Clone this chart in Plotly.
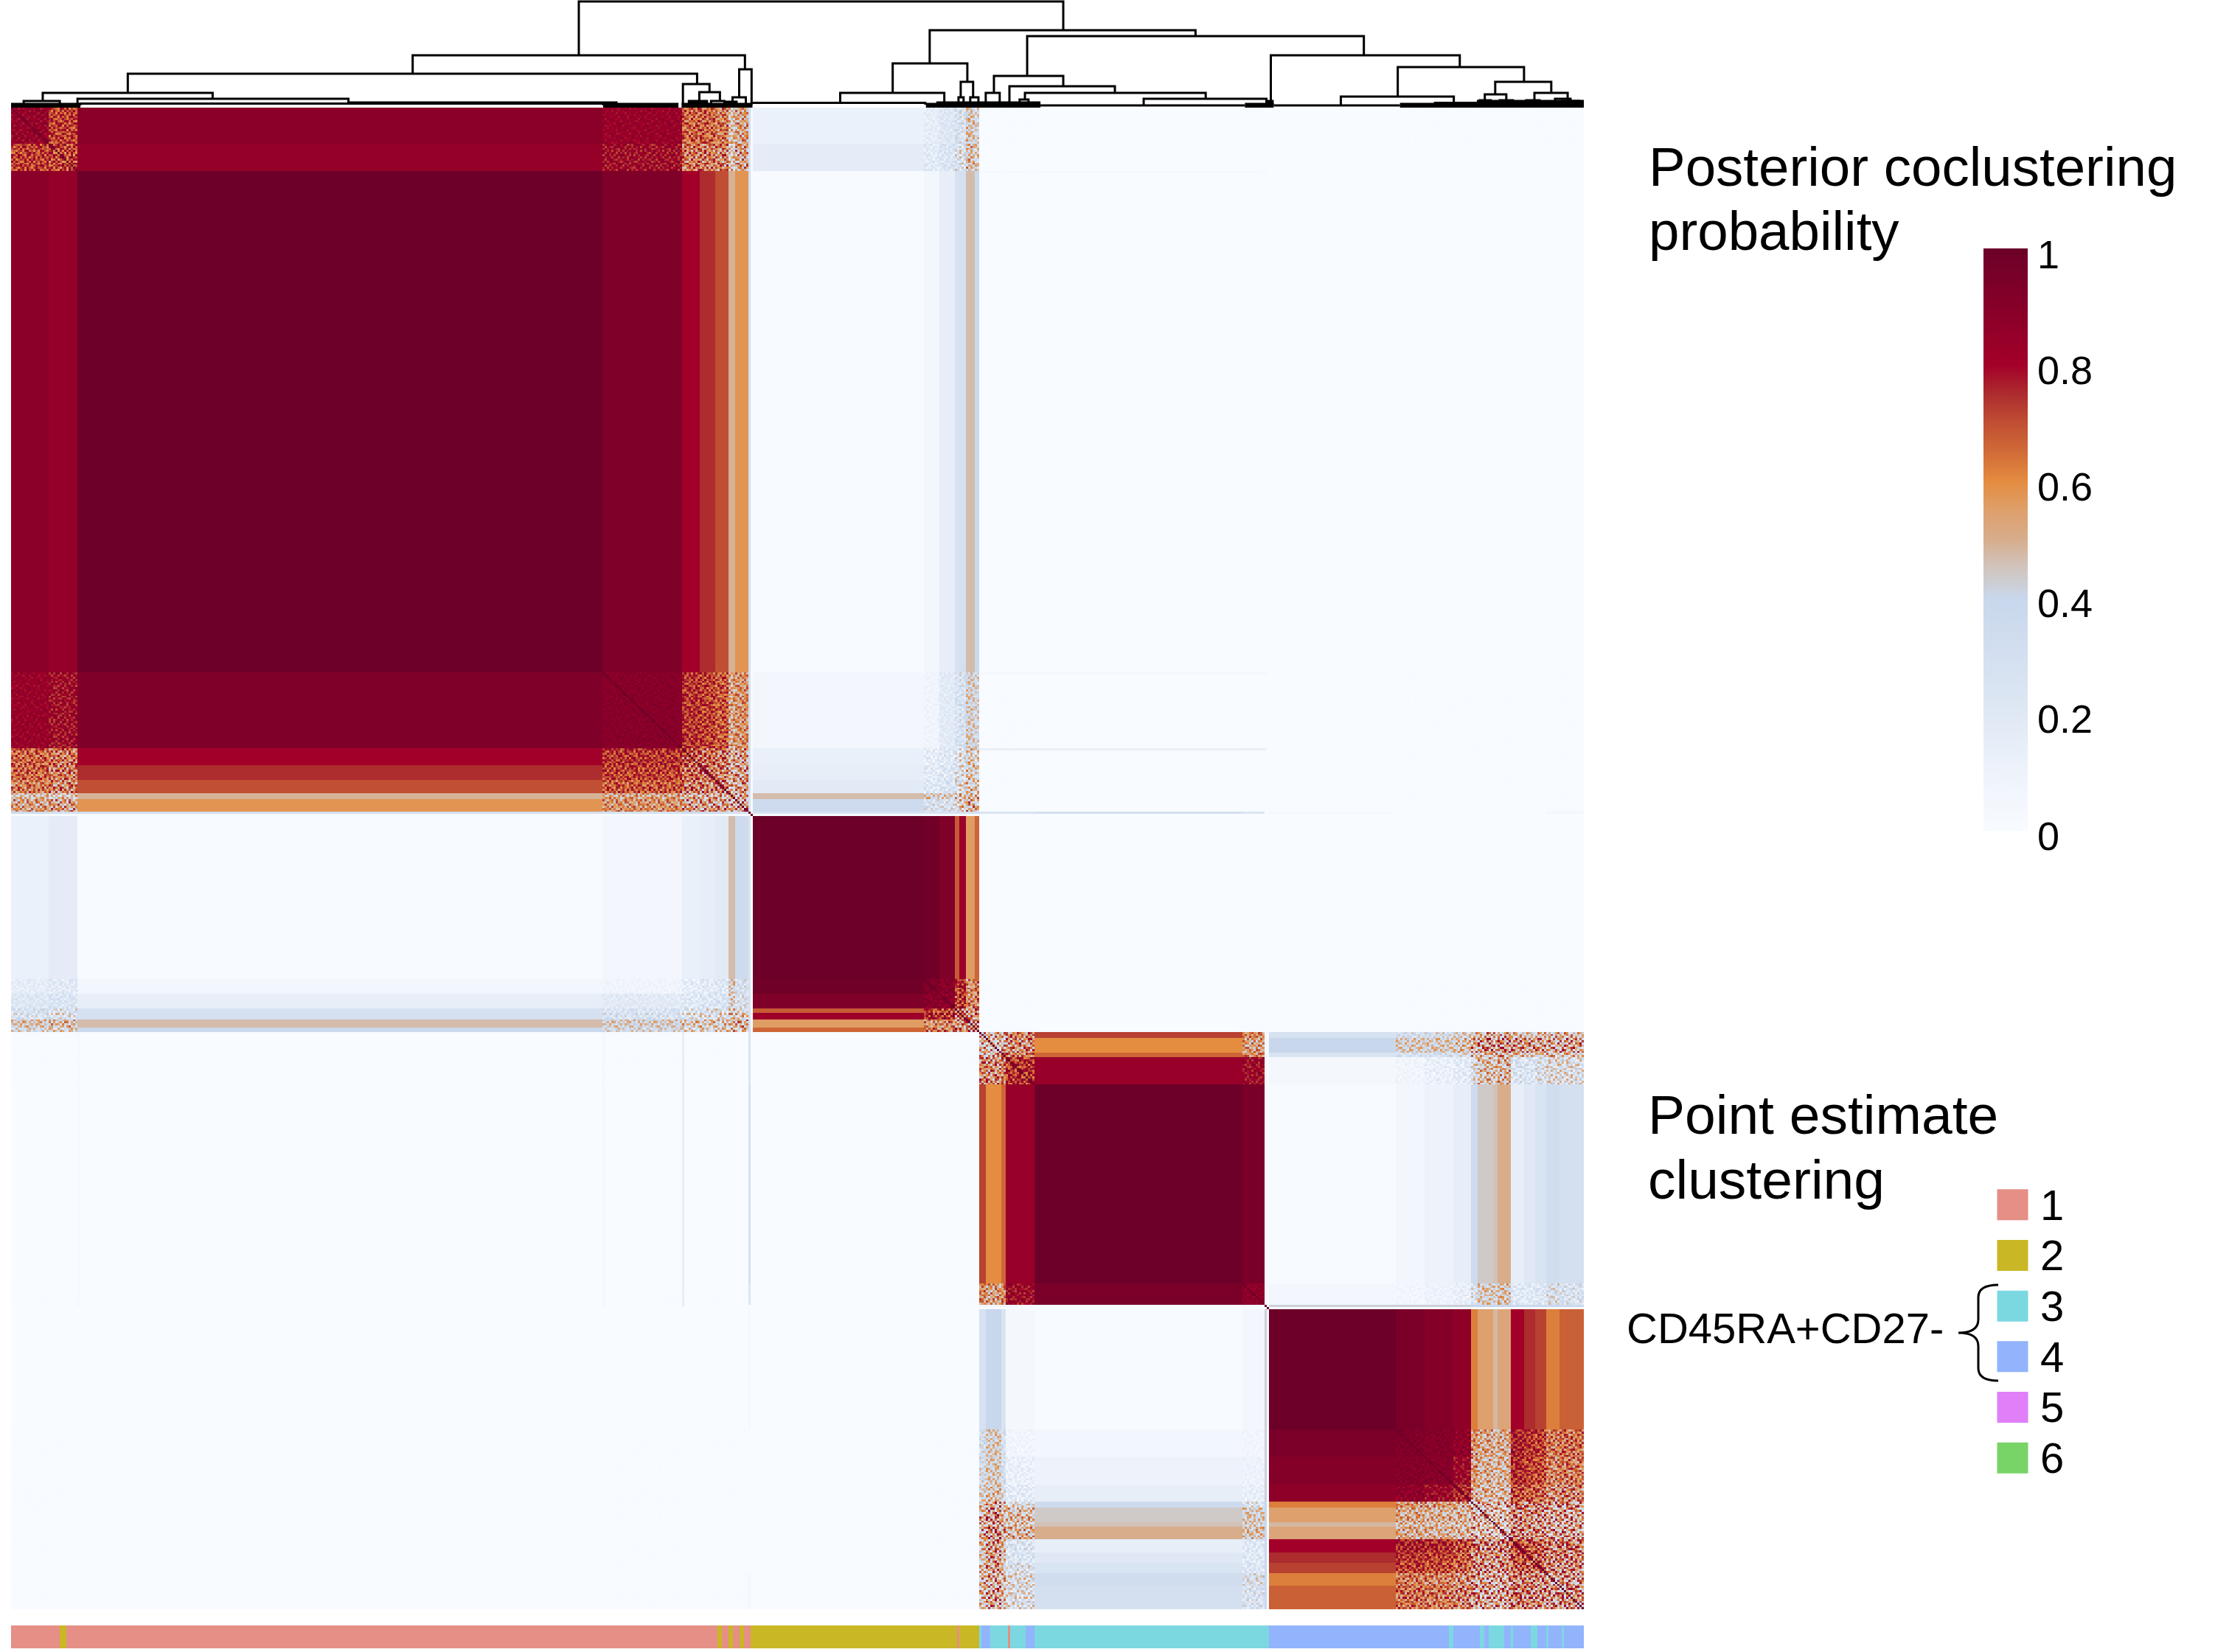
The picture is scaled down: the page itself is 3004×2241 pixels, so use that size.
import numpy as np
import plotly.graph_objects as go

W, H = 3004, 2241
FONT = "Liberation Sans"

# ---------- heatmap: ordered groups of samples ----------
seg_names = ["a1","a2","a3","a4","a5","a6","a7","a8","a9","a10",
             "b0","b1","b2","b3","b4","b5","b6","b7",
             "c1","c2","c3","c4","c5","c6","c7",
             "d0","d1","d2","d3","d4","d5","d6","d7","d8","d9","d10","d11","d12","d13"]
seg_sizes = [17,13,237,36,8,7,6,3,6,1,
             1,77,7,7,2,3,4,2,
             3,7,2,13,94,10,1,
             1,57,13,13,8,3,7,2,6,6,5,5,6,11]
# cell-to-cell scatter seen inside each group (0 = flat colour)
seg_grain = [.08,.16,0,.04,.20,.20,.22,.28,.25,0,
             0,0,.05,.08,.20,.25,.25,.25,
             .22,.28,.22,.15,0,.05,0,
             0,0,.04,.05,.12,.30,.30,.30,.30,.20,.20,.22,.28,.28]

# upper triangles: coclustering probability inside each main cluster
within_a = [[.85,.72,.885,.84,.66,.66,.62,.45,.55,.35],
            [.72,.85,.81,.62,.62,.60,.42,.55,.30],
            [.995,.93,.80,.75,.70,.49,.58,.30],
            [.90,.74,.72,.68,.53,.58,.30],
            [.68,.65,.63,.50,.55,.35],
            [.65,.60,.50,.55,.35],
            [.60,.48,.55,.35],
            [.45,.50,.30],
            [.55,.30],
            [1.0]]
within_b = [[1.0,.01,.01,.01,.01,.01,.01,.01],
            [.995,.98,.93,.68,.82,.56,.66],
            [.93,.90,.70,.78,.58,.62],
            [.88,.70,.75,.60,.62],
            [.60,.65,.55,.60],
            [.68,.58,.62],
            [.55,.60],
            [.55]]
within_c = [[.50,.50,.52,.62,.72,.60,.05],
            [.45,.50,.58,.60,.55,.05],
            [.55,.62,.66,.60,.05],
            [.75,.84,.82,.05],
            [.995,.95,.02],
            [.88,.05],
            [1.0]]
within_d = [[1.0,.01,.01,.01,.01,.01,.01,.01,.01,.01,.01,.01,.01,.01],
            [.995,.95,.91,.87,.62,.55,.48,.53,.80,.75,.72,.62,.67],
            [.93,.91,.87,.58,.52,.48,.52,.78,.74,.72,.62,.64],
            [.90,.82,.56,.50,.46,.50,.76,.72,.70,.60,.62],
            [.76,.52,.48,.45,.48,.70,.68,.65,.58,.60],
            [.50,.48,.45,.48,.62,.60,.60,.55,.55],
            [.42,.42,.45,.60,.58,.56,.52,.52],
            [.40,.42,.58,.55,.55,.50,.50],
            [.45,.60,.58,.56,.52,.52],
            [.72,.70,.66,.60,.62],
            [.70,.66,.60,.60],
            [.64,.58,.58],
            [.55,.55],
            [.58]]
# rows a1..a10, columns b0..b7
between_a_b = [[.01,.12,.15,.22,.28,.28,.45,.36],
               [.01,.16,.18,.24,.30,.30,.47,.38],
               [.01,.01,.06,.15,.28,.30,.47,.38],
               [.01,.05,.08,.18,.25,.28,.42,.36],
               [.01,.13,.15,.20,.27,.30,.42,.36],
               [.01,.15,.17,.22,.30,.32,.42,.36],
               [.01,.18,.20,.25,.30,.35,.42,.38],
               [.01,.47,.42,.40,.40,.40,.50,.45],
               [.01,.35,.30,.30,.35,.40,.50,.42],
               [.01,.25,.25,.25,.30,.30,.30,.30]]
# rows c1..c7, columns d0..d13
between_c_d = [[.01,.28,.32,.35,.38,.45,.50,.45,.50,.45,.45,.45,.48,.45],
               [.01,.40,.42,.42,.44,.50,.55,.50,.58,.55,.55,.52,.50,.52],
               [.01,.25,.28,.30,.33,.42,.45,.45,.50,.45,.45,.42,.45,.42],
               [.01,.04,.07,.12,.16,.35,.45,.42,.48,.25,.25,.30,.35,.33],
               [.01,.01,.06,.10,.15,.35,.44,.46,.50,.15,.20,.25,.33,.30],
               [.01,.05,.07,.10,.13,.30,.42,.40,.45,.20,.20,.22,.33,.28],
               [.01,.42,.42,.42,.42,.40,.40,.40,.40,.38,.38,.38,.38,.38]]
background_prob = .005
faint_blocks = [("a10","c1",.25),("a10","c2",.25),("a10","c3",.25),("a10","c4",.25),
                ("a10","c5",.30),("a10","c6",.22),("a10","d1",.03),("a10","d12",.05),("a10","d13",.05)]
# single samples of cluster A that show as thin pale lines across the third cluster
line_samples = [30, 267, 303]
line_values = [.03, .04, .14]

# hand-typed mottling for the speckled blocks (digit 0..9 = low..high within a block)
speckle_rows = ["72905136842970153864209",
                "18364925071683942507316",
                "50827319468205917346082",
                "93416082753194068271549",
                "26079543180762935418607",
                "84153760924318507692143",
                "37928105463970261584730",
                "61504892317046895320968",
                "09276348519832704165297",
                "45831067294516380927451",
                "78092514630897146253086",
                "13647980258340692718534",
                "96205371846129503876012",
                "32758419067584231094765",
                "80419625738097462531829",
                "57163042981273608945370",
                "24896710354168975203148",
                "69031587426930147682593",
                "41572836095425806319674"]

# ---------- annotation strip: run lengths of the point-estimate cluster ----------
run_cluster = [1,2,1,2,1,2,1,2,1, 2,1,2, 3,4,3,1,3,4,3, 4,3,4,3,4,3,4,3,4,3,4,3,4,3,4]
run_length  = [22,3,294,2,3,2,3,2,3, 93,1,9, 1,4,8,1,7,4,106, 81,2,12,2,2,7,3,1,8,3,4,1,6,1,9]
cluster_ids = [1,2,3,4,5,6]
cluster_colors = ["#E58F86","#C9B726","#7CD8E0","#92B4FC","#E07FF8","#78D466"]

# ---------- dendrogram merges: left, right, height, left child height, right child height ----------
dend_left  = [256.3,181.3,52.7,328.7,325.7,14.3,5.7,30,152.3,31.3,303.3,310.7,
              414.7,398,374.3,334.7,428.7,427.7,433,458.7,443.7,440,450.7,457.7,455.3,511.3,
              568.7,626,600.3,670,665.3,687.7,464.7,570,
              663,672,684,697,700,306,316]
dend_right = [475,331.3,309.7,334.3,331.7,91,22,152.3,273.3,267.3,315.3,320,
              534.7,431.7,421.3,412.7,434.3,430,436.7,610.7,475,446.3,498.3,539.3,459.3,566.7,
              654,683,651.3,695.3,675,702.7,557,627,
              668,678,690,704,708,314,322]
dend_top   = [144,71,46,52,14,20,9,12,7,5.5,32,21,
              105,60,20,6.5,35,14,14,97,43,20,29,20,11,12,
              71,55,15,35,18,20,3,3,
              10,10,10,12,9,9,9]
dend_hl    = [71,46,20,14,5,9,4,6,7,3,4,9,
              60,20,6.5,6.5,14,4,4,43,20,4,4,11,4,4,
              4,15,4,18,8,8,3,3,
              5,5,5,5,5,4,4]
dend_hr    = [105,52,32,4,5,12,4,7,4,3,21,9,
              97,35,4,4,14,4,4,71,29,4,20,12,4,4,
              55,35,4,20,8,8,3,3,
              5,5,5,5,5,4,4]
# densely merged stretches near the leaves: start, end, height
dense_start = [0,267.3,302.7,413,557,627,305.7,321.7,417.7,642.3,661.7,567]
dense_end   = [31.3,301.3,334.7,464.7,570,710,314.7,328,464.7,661.7,710,570]
dense_h     = [3,3,3,3,3,3,6,6,5,4.5,7,7]
row_edge_samples = [0, 334, 437, 567, 710]

colorbar_ticks = ["1","0.8","0.6","0.4","0.2","0"]

colorscale = [[0,"#f8fbff"],[.1,"#eef3fb"],[.2,"#dfe8f4"],[.4,"#c8d7ec"],[.42,"#ccd0d8"],
              [.46,"#d2c1b6"],[.5,"#d7ad8c"],[.55,"#dea06c"],[.6,"#e48c40"],[.65,"#d16b37"],
              [.7,"#c04f33"],[.75,"#ad2c2e"],[.8,"#a30029"],[.9,"#870029"],[1,"#6c0028"]]

# ---------- assemble ----------
n = sum(seg_sizes)
idx = {s: i for i, s in enumerate(seg_names)}
m = len(seg_names)
mean = np.full((m, m), background_prob)

def put_triangle(first, tri):
    for r, row in enumerate(tri):
        for c, v in enumerate(row):
            mean[first + r, first + r + c] = v
            mean[first + r + c, first + r] = v

def put_rect(r0, c0, table):
    for r, row in enumerate(table):
        for c, v in enumerate(row):
            mean[r0 + r, c0 + c] = v
            mean[c0 + c, r0 + r] = v

put_triangle(idx["a1"], within_a)
put_triangle(idx["b0"], within_b)
put_triangle(idx["c1"], within_c)
put_triangle(idx["d0"], within_d)
put_rect(idx["a1"], idx["b0"], between_a_b)
put_rect(idx["c1"], idx["d0"], between_c_d)
for s1, s2, v in faint_blocks:
    mean[idx[s1], idx[s2]] = v
    mean[idx[s2], idx[s1]] = v

starts = np.cumsum([0] + seg_sizes)
speckle = np.array([[int(ch) for ch in row] for row in speckle_rows], dtype=float)
speckle = (speckle - 4.5) / 4.5
tile = speckle[np.ix_(np.arange(n) % speckle.shape[0], np.arange(n) % speckle.shape[1])]

z = np.zeros((n, n))
for i in range(m):
    for j in range(m):
        gi, gj = seg_grain[i], seg_grain[j]
        spread = min((gi + gj) / 2, mean[i, j] * .8) if gi > 0 and gj > 0 else 0.0
        a, b = starts[i], starts[i + 1]
        c, d = starts[j], starts[j + 1]
        z[a:b, c:d] = mean[i, j] + spread * tile[a:b, c:d]
for s, v in zip(line_samples, line_values):
    z[s, starts[idx["c1"]]:starts[idx["d0"]]] = v
z = np.clip(z, 0, 1)
z = np.triu(z) + np.triu(z, 1).T
np.fill_diagonal(z, 1)
z = np.round(z, 3)

strip = np.repeat(run_cluster, run_length)

def X(p): return p / W
def Y(p): return 1 - p / H

# the reference's four clusters are not drawn at one vertical scale: place rows by pixel bounds
row_edge_px = [146, 1105, 1402, 1776, 2183]
row_pos = np.interp(np.arange(n + 1), row_edge_samples, row_edge_px)

fig = go.Figure()

fig.add_trace(go.Heatmap(
    z=z, x0=.5, dx=1, y=row_pos.tolist(), zmin=0, zmax=1, colorscale=colorscale,
    xaxis="x", yaxis="y", hoverinfo="skip",
    colorbar=dict(thickness=60, thicknessmode="pixels", len=790, lenmode="pixels",
                  x=X(2690), xanchor="left", y=Y(337), yanchor="top", xpad=0, ypad=0,
                  outlinewidth=0, borderwidth=0, ticks="", showticklabels=False,
                  tickvals=[0, .2, .4, .6, .8, 1])))

step = []
for k in range(len(cluster_ids)):
    step += [[k / 6, cluster_colors[k]], [(k + 1) / 6, cluster_colors[k]]]
fig.add_trace(go.Heatmap(
    z=[strip.tolist()], x0=.5, dx=1, y0=0, dy=1, zmin=.5, zmax=6.5, colorscale=step,
    showscale=False, xaxis="x3", yaxis="y3", hoverinfo="skip"))

dx, dy = [], []
for l, r, t, hl, hr in zip(dend_left, dend_right, dend_top, dend_hl, dend_hr):
    dx += [l, l, r, r, None]
    dy += [hl, t, t, hr, None]
fig.add_trace(go.Scatter(x=dx, y=dy, mode="lines", xaxis="x2", yaxis="y2",
                         line=dict(color="black", width=3, shape="linear"),
                         showlegend=False, hoverinfo="skip"))
mx, my = [], []
for s, e, h in zip(dense_start, dense_end, dense_h):
    mx += [s, e, None]
    my += [h, h, None]
fig.add_trace(go.Scatter(x=mx, y=my, mode="lines", xaxis="x2", yaxis="y2",
                         line=dict(color="black", width=7),
                         showlegend=False, hoverinfo="skip"))

fig.add_trace(go.Scatter(x=[.5] * 6, y=cluster_ids, mode="markers", xaxis="x4", yaxis="y4",
                         marker=dict(symbol="square", size=42, color=cluster_colors, line=dict(width=0)),
                         showlegend=False, hoverinfo="skip"))

hidden = dict(visible=False, fixedrange=True)
fig.update_layout(
    width=W, height=H, margin=dict(l=0, r=0, t=0, b=0),
    paper_bgcolor="white", plot_bgcolor="white", showlegend=False,
    xaxis=dict(domain=[X(15), X(2148)], range=[0, n], **hidden),
    yaxis=dict(domain=[Y(2183), Y(146)], range=[2183, 146], **hidden),
    xaxis2=dict(domain=[X(15), X(2148)], range=[0, n], anchor="y2", **hidden),
    yaxis2=dict(domain=[Y(146), Y(0)], range=[0, 146], anchor="x2", **hidden),
    xaxis3=dict(domain=[X(15), X(2148)], range=[0, n], anchor="y3", **hidden),
    yaxis3=dict(domain=[Y(2236), Y(2205)], range=[-.5, .5], anchor="x3", **hidden),
    xaxis4=dict(domain=[X(2708), X(2751)], range=[0, 1], anchor="y4", **hidden),
    yaxis4=dict(domain=[Y(2012), Y(1600)], range=[6.5, .5], anchor="x4", side="right",
                tickmode="array", tickvals=cluster_ids, ticktext=[str(c) for c in cluster_ids],
                tickfont=dict(family=FONT, size=58, color="black"), ticks="", ticklabelstandoff=15,
                showgrid=False, zeroline=False, showline=False, fixedrange=True),
)

def text(s, x, y, size):
    fig.add_annotation(text=s, xref="paper", yref="paper", x=X(x), y=Y(y), xanchor="left",
                       yanchor="middle", showarrow=False, align="left",
                       font=dict(family=FONT, size=size, color="black"))

text("Posterior coclustering", 2234, 226, 74.5)
text("probability", 2234, 313, 74.5)
text("Point estimate", 2233, 1512, 75)
text("clustering", 2233, 1600, 75)
text("CD45RA+CD27-", 2204, 1801, 58)
for lab, yp in zip(colorbar_ticks, [345, 502, 660, 818, 975, 1134]):
    text(lab, 2761, yp, 54)

def P(x, y): return f"{X(x):.5f},{Y(y):.5f}"
brace = ("M" + P(2710, 1743) + " Q" + P(2683, 1743) + " " + P(2683, 1760) + " L" + P(2683, 1790) +
         " Q" + P(2683, 1808) + " " + P(2656, 1808) + " Q" + P(2683, 1808) + " " + P(2683, 1826) +
         " L" + P(2683, 1856) + " Q" + P(2683, 1873) + " " + P(2710, 1873))
fig.add_shape(type="path", xref="paper", yref="paper", path=brace, line=dict(color="black", width=3))

fig.write_html("out.html", config=dict(displayModeBar=False),
               post_script="document.body.style.margin='0';document.body.style.overflow='hidden';")
